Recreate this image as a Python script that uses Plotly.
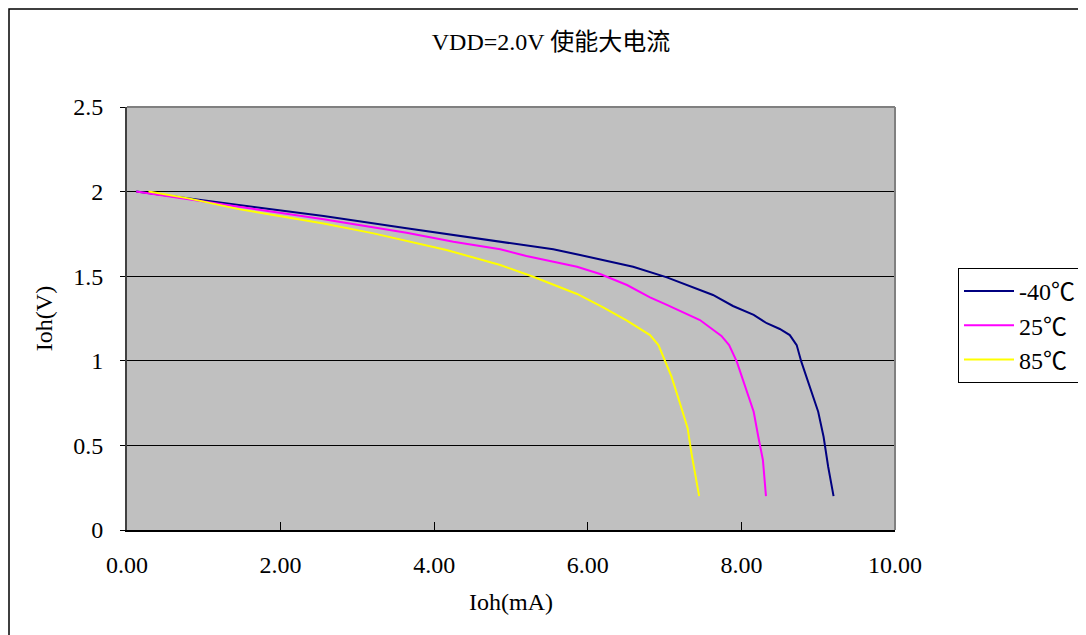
import plotly.graph_objects as go

# ---- data ----
series_names = ["-40℃", "25℃", "85℃"]
series_colors = ["#000080", "#FF00FF", "#FFFF00"]

x_m40 = [0.12, 0.8, 1.47, 2.56, 3.64, 4.25, 4.86, 5.55, 5.90, 6.16, 6.59, 7.03, 7.63, 7.89,
         8.16, 8.33, 8.50, 8.63, 8.72, 8.78, 8.89, 9.00, 9.07, 9.13, 9.20]
y_m40 = [2.0, 1.96, 1.917, 1.856, 1.783, 1.743, 1.704, 1.659, 1.625, 1.60, 1.556, 1.493, 1.389, 1.324,
         1.271, 1.222, 1.188, 1.152, 1.093, 0.995, 0.847, 0.699, 0.551, 0.374, 0.20]

x_25 = [0.12, 0.8, 1.47, 2.56, 3.64, 4.25, 4.86, 5.20, 5.86, 6.16, 6.51, 6.81, 7.03, 7.46,
        7.74, 7.84, 7.94, 8.05, 8.16, 8.22, 8.28, 8.32]
y_25 = [2.0, 1.955, 1.907, 1.836, 1.757, 1.704, 1.659, 1.619, 1.556, 1.513, 1.448, 1.375, 1.330, 1.241,
        1.147, 1.093, 0.995, 0.847, 0.699, 0.551, 0.414, 0.20]

x_85 = [0.28, 0.8, 1.47, 2.56, 3.21, 4.16, 4.86, 5.29, 5.86, 6.20, 6.51, 6.81, 6.92, 7.01,
        7.09, 7.20, 7.30, 7.35, 7.45]
y_85 = [2.0, 1.96, 1.895, 1.812, 1.753, 1.655, 1.566, 1.497, 1.395, 1.316, 1.237, 1.152, 1.093, 0.995,
        0.906, 0.749, 0.601, 0.453, 0.20]

x_ticks = [0, 2, 4, 6, 8, 10]
y_ticks = [0, 0.5, 1, 1.5, 2, 2.5]

title_text = "VDD=2.0V 使能大电流"
x_title = "Ioh(mA)"
y_title = "Ioh(V)"

FONT = "Liberation Serif, Noto Sans CJK SC, serif"

fig = go.Figure()
for xs, ys, name, color in zip([x_m40, x_25, x_85], [y_m40, y_25, y_85], series_names, series_colors):
    fig.add_trace(go.Scatter(x=xs, y=ys, mode="lines", name=name,
                             line=dict(color=color, width=2)))

# page is offset by the 8px body margin
OFF = 8
W, H = 1086 - OFF, 635 - OFF
L, T = 127 - OFF, 107 - OFF
R = W - (895 - OFF)
B = H - (530 - OFF)
pw, ph = W - L - R, H - T - B

def px(xpage):
    return (xpage - OFF - L) / pw

def py(ypage):
    return (H - B - (ypage - OFF)) / ph

fig.update_layout(
    width=W, height=H,
    margin=dict(l=L, r=R, t=T, b=B, autoexpand=False),
    paper_bgcolor="white",
    plot_bgcolor="#C0C0C0",
    font=dict(family=FONT, size=24, color="black"),
    showlegend=True,
    legend=dict(xref="container", yref="container",
                x=(958 - OFF) / W, y=1 - (268 - OFF) / H,
                xanchor="left", yanchor="top",
                bordercolor="black", borderwidth=1, bgcolor="white",
                font=dict(family=FONT, size=24),
                itemwidth=50, tracegroupgap=0),
    xaxis=dict(range=[0, 10], tickvals=x_ticks, tickformat=".2f",
               ticks="inside", ticklen=8, tickcolor="black",
               showgrid=False, zeroline=False,
               showline=True, linecolor="black", linewidth=2,
               ticklabelstandoff=12,
               title=dict(text=x_title, standoff=16, font=dict(size=24))),
    yaxis=dict(range=[0, 2.5], tickvals=y_ticks,
               ticks="outside", ticklen=5, tickcolor="black",
               showgrid=True, gridcolor="black", gridwidth=1,
               zeroline=False,
               showline=True, linecolor="#404040", linewidth=2,
               ticklabelstandoff=12,
               title=dict(text=y_title, standoff=14, font=dict(size=24))),
    title=dict(text=title_text, xref="container", x=(551 - OFF) / W, xanchor="center",
               y=1 - (42 - OFF) / H, yanchor="middle",
               font=dict(family=FONT, size=24)),
    shapes=[
        dict(type="line", xref="paper", yref="paper", x0=0, x1=1, y0=1, y1=1,
             line=dict(color="#808080", width=2), layer="above"),
        dict(type="line", xref="paper", yref="paper", x0=1, x1=1, y0=0, y1=1,
             line=dict(color="#808080", width=2), layer="above"),
        dict(type="rect", xref="paper", yref="paper",
             x0=px(9), x1=px(1200), y0=py(700), y1=py(9),
             line=dict(color="black", width=1.5), layer="below"),
    ],
)

fig.write_html("out.html")
